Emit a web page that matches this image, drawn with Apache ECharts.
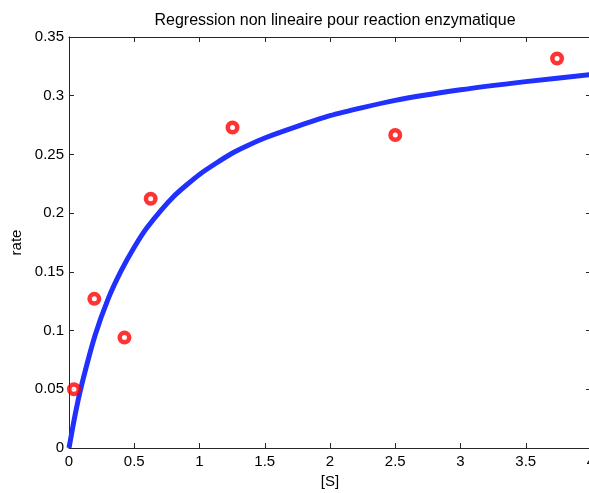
<!DOCTYPE html>
<html>
<head>
<meta charset="utf-8">
<script src="https://cdn.jsdelivr.net/npm/echarts@6/dist/echarts.min.js"></script>
<style>
  html, body { margin: 0; padding: 0; background: #fff; overflow: hidden; }
  #chart { width: 589px; height: 493px; }
</style>
</head>
<body>
<div id="chart"></div>
<script>
// measured substrate concentration and rate
const substrate = [0.038, 0.194, 0.425, 0.626, 1.253, 2.5, 3.74];
const rate = [0.05, 0.127, 0.094, 0.2122, 0.2729, 0.2665, 0.3317];

// fitted curve
const fitX = [0, 0.05, 0.1, 0.2, 0.3, 0.4, 0.5, 0.6, 0.8, 1.0, 1.25, 1.5, 2.0, 2.5, 3.0, 3.5, 4.0];
const fitY = [0, 0.030, 0.055, 0.096, 0.127, 0.151, 0.171, 0.188, 0.214, 0.233, 0.251, 0.264, 0.283, 0.296, 0.305, 0.312, 0.318];

const FONT = "Liberation Sans";
const AXIS = "#262626";

const chart = echarts.init(document.getElementById("chart"), null, { renderer: "canvas" });

const tick = { show: true, inside: true, length: 5, lineStyle: { color: AXIS, width: 1 } };
const line = { show: true, onZero: false, lineStyle: { color: AXIS, width: 1 } };
const label = { color: "#000", fontFamily: FONT, fontSize: 15 };

chart.setOption({
  animation: false,
  title: {
    text: "Regression non lineaire pour reaction enzymatique",
    left: 330, top: 8, textAlign: "center",
    textStyle: { color: "#000", fontFamily: FONT, fontSize: 16, fontWeight: "normal" },
  },
  // the plot runs past the right edge, as in the original figure
  grid: { left: 69, right: -2, top: 37, bottom: 45, outerBoundsMode: "none", containLabel: false },
  xAxis: [
    {
      type: "value", min: 0, max: 4, interval: 0.5,
      name: "[S]", nameLocation: "middle", nameGap: 24,
      nameTextStyle: label,
      axisLine: line, axisTick: tick,
      axisLabel: { ...label, margin: 6 },
      splitLine: { show: false },
    },
    {
      type: "value", min: 0, max: 4, interval: 0.5, position: "top",
      axisLine: line, axisTick: tick, axisLabel: { show: false },
      splitLine: { show: false },
    },
  ],
  yAxis: [
    {
      type: "value", min: 0, max: 0.35, interval: 0.05,
      name: "rate", nameLocation: "middle", nameGap: 43, nameRotate: 90,
      nameTextStyle: label,
      axisLine: line, axisTick: tick,
      axisLabel: { ...label, margin: 5 },
      splitLine: { show: false },
    },
    {
      type: "value", min: 0, max: 0.35, interval: 0.05, position: "right",
      axisLine: line, axisTick: tick, axisLabel: { show: false },
      splitLine: { show: false },
    },
  ],
  series: [
    {
      name: "fit", type: "line",
      data: fitX.map((x, i) => [x, fitY[i]]),
      smooth: 0.2, showSymbol: false,
      lineStyle: { color: "#1f30ff", width: 5 },
    },
    {
      name: "data", type: "scatter",
      data: substrate.map((x, i) => [x, rate[i]]),
      symbol: "circle", symbolSize: 9.5,
      itemStyle: { color: "#fff", borderColor: "#ff0000", borderWidth: 4.5 },
      z: 3,
    },
  ],
});
</script>
</body>
</html>
